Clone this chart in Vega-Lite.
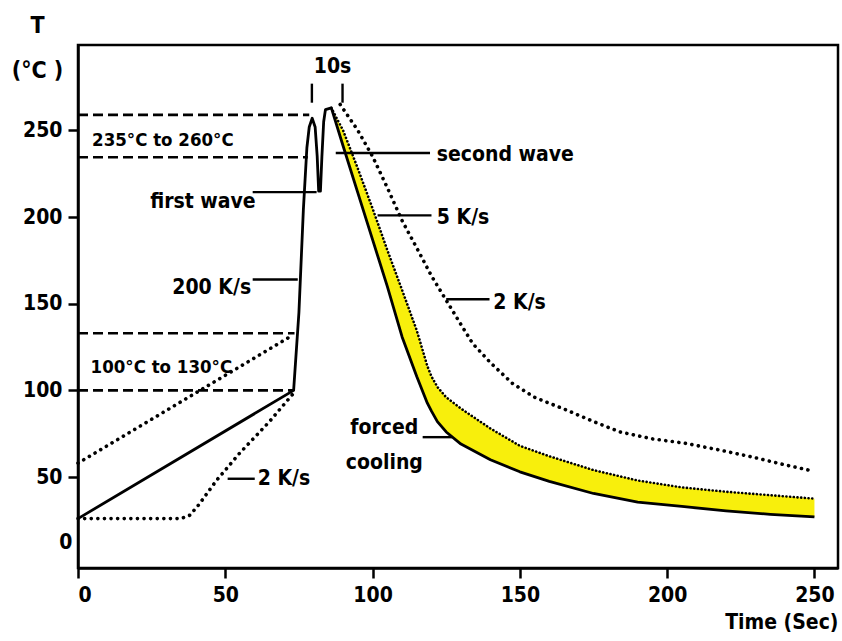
{
  "$schema": "https://vega.github.io/schema/vega-lite/v6.json",
  "width": 760,
  "height": 523,
  "autosize": "none",
  "padding": {"left": 78, "top": 45, "right": 4, "bottom": 73},
  "background": "white",
  "config": {
    "view": {"stroke": "black", "strokeWidth": 2.5},
    "font": "DejaVu Sans Condensed",
    "axis": {
      "domainColor": "black", "domainWidth": 2.5,
      "tickColor": "black", "tickWidth": 2.5, "tickSize": 10,
      "labelColor": "black", "labelFontSize": 21, "labelFont": "DejaVu Sans Condensed", "labelFontWeight": "bold",
      "titleColor": "black", "titleFontWeight": "bold", "titleFont": "DejaVu Sans Condensed",
      "grid": false
    }
  },
  "datasets": {
    "band": [
      {"t": 86, "lo": 263, "hi": 263},
      {"t": 90, "lo": 241, "hi": 250},
      {"t": 95, "lo": 214, "hi": 228},
      {"t": 100, "lo": 187, "hi": 205},
      {"t": 105, "lo": 160, "hi": 181},
      {"t": 110, "lo": 131, "hi": 158},
      {"t": 115, "lo": 108, "hi": 134.6},
      {"t": 118.6, "lo": 92.6, "hi": 114},
      {"t": 120, "lo": 88, "hi": 108},
      {"t": 122, "lo": 82, "hi": 102},
      {"t": 125, "lo": 76, "hi": 96},
      {"t": 130, "lo": 69, "hi": 89.5},
      {"t": 140, "lo": 60, "hi": 78},
      {"t": 150, "lo": 53, "hi": 68},
      {"t": 160, "lo": 47.5, "hi": 62},
      {"t": 175, "lo": 40.5, "hi": 54},
      {"t": 190, "lo": 35.5, "hi": 48},
      {"t": 205, "lo": 33, "hi": 44},
      {"t": 220, "lo": 30.5, "hi": 41.5},
      {"t": 235, "lo": 28.5, "hi": 39.5},
      {"t": 250, "lo": 27, "hi": 37.5}
    ],
    "main": [
      {"t": 0, "T": 26},
      {"t": 73.2, "T": 100},
      {"t": 75, "T": 145},
      {"t": 76.5, "T": 204},
      {"t": 77.7, "T": 240},
      {"t": 78.5, "T": 252},
      {"t": 79.5, "T": 257},
      {"t": 80.5, "T": 252},
      {"t": 81.2, "T": 235},
      {"t": 81.7, "T": 215},
      {"t": 82.3, "T": 215},
      {"t": 82.8, "T": 235},
      {"t": 83.4, "T": 255},
      {"t": 84, "T": 262},
      {"t": 86, "T": 263},
      {"t": 90, "T": 241},
      {"t": 95, "T": 214},
      {"t": 100, "T": 187},
      {"t": 105, "T": 160},
      {"t": 110, "T": 131},
      {"t": 115, "T": 108},
      {"t": 118.6, "T": 92.6},
      {"t": 120, "T": 88},
      {"t": 122, "T": 82},
      {"t": 125, "T": 76},
      {"t": 130, "T": 69},
      {"t": 140, "T": 60},
      {"t": 150, "T": 53},
      {"t": 160, "T": 47.5},
      {"t": 175, "T": 40.5},
      {"t": 190, "T": 35.5},
      {"t": 205, "T": 33},
      {"t": 220, "T": 30.5},
      {"t": 235, "T": 28.5},
      {"t": 250, "T": 27}
    ],
    "dotted": [
      {"curve": "upper preheat", "t": 0, "T": 58},
      {"curve": "upper preheat", "t": 73, "T": 132},
      {"curve": "lower preheat", "t": 0, "T": 26},
      {"curve": "lower preheat", "t": 35, "T": 26},
      {"curve": "lower preheat", "t": 38, "T": 28},
      {"curve": "lower preheat", "t": 41, "T": 34},
      {"curve": "lower preheat", "t": 47, "T": 48},
      {"curve": "lower preheat", "t": 55, "T": 64},
      {"curve": "lower preheat", "t": 65, "T": 82},
      {"curve": "lower preheat", "t": 73, "T": 98},
      {"curve": "2 K/s cooling", "t": 89, "T": 265},
      {"curve": "2 K/s cooling", "t": 95, "T": 250},
      {"curve": "2 K/s cooling", "t": 100, "T": 235},
      {"curve": "2 K/s cooling", "t": 105, "T": 217},
      {"curve": "2 K/s cooling", "t": 110, "T": 198},
      {"curve": "2 K/s cooling", "t": 116, "T": 179},
      {"curve": "2 K/s cooling", "t": 120, "T": 166},
      {"curve": "2 K/s cooling", "t": 125, "T": 152},
      {"curve": "2 K/s cooling", "t": 130, "T": 138},
      {"curve": "2 K/s cooling", "t": 134, "T": 127},
      {"curve": "2 K/s cooling", "t": 140, "T": 116},
      {"curve": "2 K/s cooling", "t": 147.5, "T": 104},
      {"curve": "2 K/s cooling", "t": 155, "T": 96},
      {"curve": "2 K/s cooling", "t": 166, "T": 88.5},
      {"curve": "2 K/s cooling", "t": 175, "T": 82},
      {"curve": "2 K/s cooling", "t": 184, "T": 76},
      {"curve": "2 K/s cooling", "t": 195, "T": 72},
      {"curve": "2 K/s cooling", "t": 206, "T": 69.5},
      {"curve": "2 K/s cooling", "t": 218, "T": 65.5},
      {"curve": "2 K/s cooling", "t": 229, "T": 61.5},
      {"curve": "2 K/s cooling", "t": 240, "T": 57},
      {"curve": "2 K/s cooling", "t": 248, "T": 54}
    ],
    "dashed": [
      {"t": 0, "t2": 78.5, "T": 259},
      {"t": 0, "t2": 78, "T": 234.5},
      {"t": 0, "t2": 73.5, "T": 133},
      {"t": 0, "t2": 73, "T": 100}
    ],
    "leaders": [
      {"t": 59.3, "t2": 81, "T": 214.4, "T2": 214.4},
      {"t": 59.3, "t2": 74.6, "T": 164, "T2": 164},
      {"t": 79.4, "t2": 79.4, "T": 266, "T2": 277},
      {"t": 89.8, "t2": 89.8, "T": 266, "T2": 277},
      {"t": 87.5, "t2": 119.5, "T": 237, "T2": 237},
      {"t": 101.7, "t2": 120, "T": 201, "T2": 201},
      {"t": 125, "t2": 139.7, "T": 152.6, "T2": 152.6},
      {"t": 117, "t2": 127, "T": 73, "T2": 73},
      {"t": 50.8, "t2": 60, "T": 49, "T2": 49}
    ],
    "labels": [
      {"text": "235°C to 260°C", "t": 28.8, "T": 244.5, "pos": "range"},
      {"text": "first wave", "t": 42.4, "T": 208.6, "pos": "center"},
      {"text": "200 K/s", "t": 45.4, "T": 159, "pos": "center"},
      {"text": "10s", "t": 86.4, "T": 286.6, "pos": "center"},
      {"text": "100°C to 130°C", "t": 28.3, "T": 113.6, "pos": "range"},
      {"text": "forced", "t": 104, "T": 78, "pos": "center"},
      {"text": "cooling", "t": 104, "T": 58, "pos": "center"},
      {"text": "second wave", "t": 121.8, "T": 235.8, "pos": "left"},
      {"text": "5 K/s", "t": 121.8, "T": 199.5, "pos": "left"},
      {"text": "2 K/s", "t": 141, "T": 150.3, "pos": "left"},
      {"text": "2 K/s", "t": 61, "T": 49, "pos": "left"}
    ]
  },
  "layer": [
    {
      "data": {"name": "band"},
      "mark": {"type": "area", "color": "#f8ef0c", "opacity": 1},
      "encoding": {
        "x": {
          "field": "t", "type": "quantitative",
          "scale": {"domain": [0, 258], "nice": false},
          "axis": {
            "values": [0, 50, 100, 150, 200, 250],
            "labelPadding": 6,
            "title": "Time (Sec)", "titleFontSize": 21,
            "titleAnchor": "end", "titleAlign": "right",
            "titleX": 760, "titleY": 60, "titleBaseline": "alphabetic"
          }
        },
        "y": {
          "field": "hi", "type": "quantitative",
          "scale": {"domain": [-2.5, 299.3], "nice": false, "zero": false},
          "axis": {
            "values": [0, 50, 100, 150, 200, 250],
            "labelPadding": 6,
            "labelOffset": {"condition": {"test": "datum.value == 0", "value": -21}, "value": 0},
            "tickSize": {"condition": {"test": "datum.value == 0", "value": 0}, "value": 10},
            "title": ["T", "(°C )"], "titleFontSize": 23, "titleLineHeight": 45,
            "titleAngle": 0, "titleAlign": "center", "titleBaseline": "alphabetic",
            "titleX": -41, "titleY": -13
          }
        },
        "y2": {"field": "lo"}
      }
    },
    {
      "data": {"name": "band"},
      "mark": {"type": "line", "color": "black", "strokeWidth": 2.6, "strokeDash": [0.1, 3.6], "strokeCap": "round"},
      "encoding": {
        "x": {"field": "t", "type": "quantitative"},
        "y": {"field": "hi", "type": "quantitative"}
      }
    },
    {
      "data": {"name": "dotted"},
      "mark": {"type": "line", "color": "black", "strokeWidth": 3.6, "strokeDash": [0.1, 6.5], "strokeCap": "round"},
      "encoding": {
        "x": {"field": "t", "type": "quantitative"},
        "y": {"field": "T", "type": "quantitative"},
        "detail": {"field": "curve"}
      }
    },
    {
      "data": {"name": "dashed"},
      "mark": {"type": "rule", "color": "black", "strokeWidth": 2.6, "strokeDash": [10, 5]},
      "encoding": {
        "x": {"field": "t", "type": "quantitative"},
        "x2": {"field": "t2"},
        "y": {"field": "T", "type": "quantitative"}
      }
    },
    {
      "data": {"name": "main"},
      "mark": {"type": "line", "color": "black", "strokeWidth": 2.8, "strokeJoin": "round"},
      "encoding": {
        "x": {"field": "t", "type": "quantitative"},
        "y": {"field": "T", "type": "quantitative"}
      }
    },
    {
      "data": {"name": "leaders"},
      "mark": {"type": "rule", "color": "black", "strokeWidth": 2.4},
      "encoding": {
        "x": {"field": "t", "type": "quantitative"},
        "x2": {"field": "t2"},
        "y": {"field": "T", "type": "quantitative"},
        "y2": {"field": "T2"}
      }
    },
    {
      "data": {"name": "labels"},
      "transform": [{"filter": "datum.pos == 'center'"}],
      "mark": {"type": "text", "align": "center", "baseline": "middle", "fontSize": 21, "fontWeight": "bold", "color": "black", "font": "DejaVu Sans Condensed"},
      "encoding": {
        "x": {"field": "t", "type": "quantitative"},
        "y": {"field": "T", "type": "quantitative"},
        "text": {"field": "text"}
      }
    },
    {
      "data": {"name": "labels"},
      "transform": [{"filter": "datum.pos == 'range'"}],
      "mark": {"type": "text", "align": "center", "baseline": "middle", "fontSize": 18.5, "fontWeight": "bold", "color": "black", "font": "DejaVu Sans Condensed"},
      "encoding": {
        "x": {"field": "t", "type": "quantitative"},
        "y": {"field": "T", "type": "quantitative"},
        "text": {"field": "text"}
      }
    },
    {
      "data": {"name": "labels"},
      "transform": [{"filter": "datum.pos == 'left'"}],
      "mark": {"type": "text", "align": "left", "baseline": "middle", "fontSize": 21, "fontWeight": "bold", "color": "black", "font": "DejaVu Sans Condensed"},
      "encoding": {
        "x": {"field": "t", "type": "quantitative"},
        "y": {"field": "T", "type": "quantitative"},
        "text": {"field": "text"}
      }
    }
  ]
}
